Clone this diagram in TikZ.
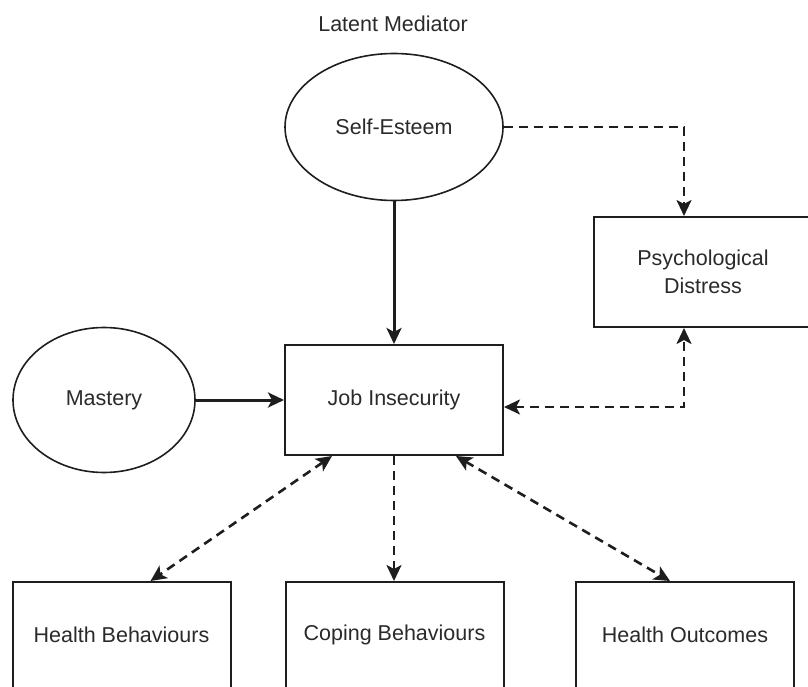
\documentclass[tikz,border=0pt]{standalone}
\usepackage{fontspec}
\setmainfont{Liberation Sans}
\usetikzlibrary{arrows.meta,calc,shapes.geometric}
\definecolor{ink}{HTML}{1E1E1E}
\definecolor{txt}{HTML}{2A2A2A}
\begin{document}
\begin{tikzpicture}[x=1pt,y=-1pt,
  every node/.style={font=\fontsize{21.5}{28}\selectfont, text=txt},
  boxnode/.style={draw=ink, line width=2pt, rectangle, minimum width=218pt, minimum height=110pt, inner sep=0pt, align=center},
  ellnode/.style={draw=ink, line width=1.6pt, ellipse, inner sep=0pt},
  solidarrow/.style={draw=ink, line width=3pt, -{Stealth[length=16pt,width=15pt,inset=4pt]}},
  dasharrow/.style={draw=ink, line width=2.6pt, dash pattern=on 9pt off 6pt, -{Stealth[length=16pt,width=15pt,inset=4pt]}},
  dashboth/.style={draw=ink, line width=2.6pt, dash pattern=on 9pt off 6pt, {Stealth[length=16pt,width=15pt,inset=4pt]}-{Stealth[length=16pt,width=15pt,inset=4pt]}}
]
\useasboundingbox (0,0) rectangle (808,687);
\clip (0,0) rectangle (808,687);

\node (LM) at (393,24) {Latent Mediator};
\node[ellnode, minimum width=218pt, minimum height=147pt] (SE) at (394,127) {Self-Esteem};
\node[ellnode, minimum width=182pt, minimum height=145pt] (MA) at (104,400) {Mastery};
\node[boxnode] (JI) at (394,400) {Job Insecurity};
\node[boxnode] (PD) at (703,272) {Psychological\\Distress};
\node[boxnode, minimum height=106pt] (HB) at (121.5,635) {Health Behaviours};
\node[boxnode, minimum height=106pt] (CB) at (394.5,635) {Coping Behaviours};
\node[boxnode, minimum height=106pt] (HO) at (685,635) {Health Outcomes};

\draw[solidarrow] (SE.south) -- (JI.north);
\draw[solidarrow] (MA.east) -- (JI.west);
\draw[dasharrow] (SE.east) -| ([xshift=-19pt]PD.north);
\draw[dashboth] ([yshift=-7pt]JI.east) -| ([xshift=-19pt]PD.south);
\draw[dashboth] ([xshift=-62pt]JI.south) -- ([xshift=29pt]HB.north);
\draw[dasharrow] (JI.south) -- (CB.north -| JI.south);
\draw[dashboth] ([xshift=62pt]JI.south) -- ([xshift=-15pt]HO.north);
\end{tikzpicture}
\end{document}
